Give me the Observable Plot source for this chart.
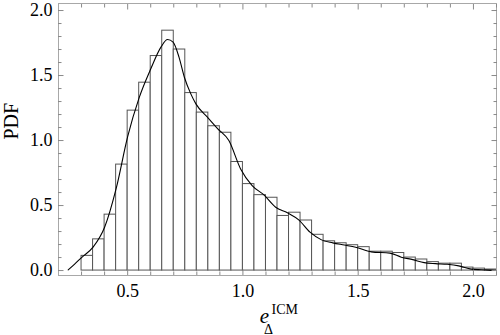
<!DOCTYPE html>
<html><head><meta charset="utf-8">
<script src="https://cdn.jsdelivr.net/npm/d3@7"></script>
<script src="https://cdn.jsdelivr.net/npm/@observablehq/plot@0.6"></script>
<style>body{margin:0;background:#fff} svg{display:block}</style>
</head><body><div id="chart"></div>
<script>
// Histogram bins
const binEdges = [0.30,0.35,0.40,0.45,0.50,0.55,0.60,0.65,0.70,0.75,0.80,0.85,0.90,0.95,1.00,1.05,1.10,1.15,1.20,1.25,1.30,1.35,1.40,1.45,1.50,1.55,1.60,1.65,1.70,1.75,1.80,1.85,1.90,1.95,2.00,2.05,2.10];
const binHeights = [0.113,0.24,0.43,0.815,1.23,1.445,1.65,1.845,1.70,1.365,1.215,1.11,1.06,0.835,0.665,0.58,0.56,0.42,0.445,0.385,0.275,0.225,0.21,0.195,0.18,0.145,0.145,0.135,0.10,0.085,0.065,0.053,0.053,0.023,0.015,0.008];
// Smooth density curve
const curveX = [0.242,0.27,0.30,0.35,0.40,0.45,0.50,0.55,0.60,0.645,0.673,0.697,0.723,0.746,0.774,0.796,0.846,0.891,0.939,0.99,1.04,1.091,1.142,1.193,1.242,1.291,1.341,1.39,1.44,1.489,1.557,1.638,1.687,1.737,1.786,1.836,1.886,1.936,1.985,2.035,2.09];
const curveY = [0.005,0.05,0.10,0.18,0.333,0.63,1.03,1.33,1.55,1.72,1.777,1.757,1.64,1.487,1.359,1.282,1.18,1.09,1.0,0.782,0.654,0.582,0.487,0.444,0.39,0.295,0.236,0.213,0.196,0.179,0.144,0.134,0.103,0.084,0.061,0.053,0.048,0.036,0.013,0.006,0.0];
// Ticks
const xMajor = [0.5,1.0,1.5,2.0];
const xMinor = [0.3,0.4,0.6,0.7,0.8,0.9,1.1,1.2,1.3,1.4,1.6,1.7,1.8,1.9,2.1];
const yMajor = [0.0,0.5,1.0,1.5,2.0];
const yMinor = [0.1,0.2,0.3,0.4,0.6,0.7,0.8,0.9,1.1,1.2,1.3,1.4,1.6,1.7,1.8,1.9];
const yLabel = "PDF";
const xLabelMain = "e", xLabelSub = "Δ", xLabelSup = "ICM";

const bins = binHeights.map((h, i) => ({lo: binEdges[i], hi: binEdges[i + 1], h}));
const curve = curveX.map((x, i) => ({x, y: curveY[i]}));

const tickColor = "#8a8a8a";
const font = "Liberation Serif, Times New Roman, serif";
const plot = Plot.plot({
  width: 500, height: 335,
  marginLeft: 58, marginRight: 4, marginTop: 3, marginBottom: 60,
  style: {fontFamily: font, background: "white", color: "black"},
  x: {domain: [0.2, 2.1], axis: null, label: null},
  y: {domain: [-0.038, 2.054], axis: null, label: null},
  marks: [
    Plot.rect(bins, {x1: "lo", x2: "hi", y1: 0, y2: "h", fill: "white", stroke: "#555", strokeWidth: 1}),
    Plot.line(curve, {x: "x", y: "y", curve: "monotone-x", stroke: "black", strokeWidth: 1.1}),
    Plot.frame({stroke: "#a8a8a8"}),
    // bottom
    Plot.axisX(xMajor, {anchor: "bottom", tickSize: 0, tickPadding: 9, tickFormat: d => d.toFixed(1), fontSize: 18, fill: "black", label: null}),
    Plot.axisX(xMajor, {anchor: "bottom", tickSize: -5.5, text: null, stroke: tickColor, label: null}),
    Plot.axisX(xMinor, {anchor: "bottom", tickSize: -3.5, text: null, stroke: tickColor, label: null}),
    // top
    Plot.axisX(xMajor, {anchor: "top", tickSize: -5.5, text: null, stroke: tickColor, label: null}),
    Plot.axisX(xMinor, {anchor: "top", tickSize: -3.5, text: null, stroke: tickColor, label: null}),
    // left
    Plot.axisY(yMajor, {anchor: "left", tickSize: 0, tickPadding: 6, tickFormat: d => d.toFixed(1), fontSize: 18, fill: "black", label: null}),
    Plot.axisY(yMajor, {anchor: "left", tickSize: -5.5, text: null, stroke: tickColor, label: null}),
    Plot.axisY(yMinor, {anchor: "left", tickSize: -3.5, text: null, stroke: tickColor, label: null}),
    // right
    Plot.axisY(yMajor, {anchor: "right", tickSize: -5.5, text: null, stroke: tickColor, label: null}),
    Plot.axisY(yMinor, {anchor: "right", tickSize: -3.5, text: null, stroke: tickColor, label: null}),
    // axis labels
    Plot.text([yLabel], {text: d => d, frameAnchor: "left", rotate: -90, dx: -47, fontSize: 20, fill: "black"}),
    Plot.text([xLabelMain], {text: d => d, frameAnchor: "bottom", textAnchor: "middle", lineAnchor: "bottom", dx: -13, dy: 47, fontSize: 21, fontStyle: "italic", fill: "black"}),
    Plot.text([xLabelSup], {text: d => d, frameAnchor: "bottom", textAnchor: "start", lineAnchor: "bottom", dx: -6, dy: 38, fontSize: 14, fill: "black"}),
    Plot.text([xLabelSub], {text: d => d, frameAnchor: "bottom", textAnchor: "middle", lineAnchor: "bottom", dx: -9, dy: 58, fontSize: 14, fill: "black"})
  ]
});
document.getElementById("chart").appendChild(plot);
</script>
</body></html>
